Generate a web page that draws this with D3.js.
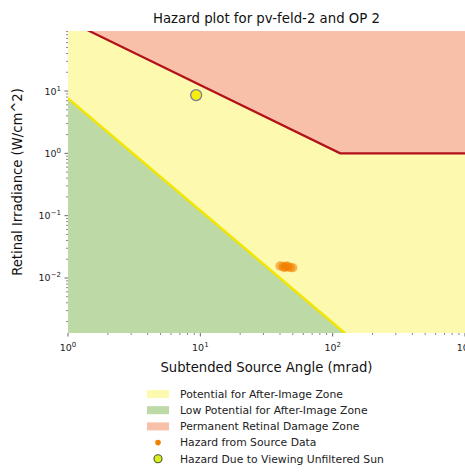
<!DOCTYPE html>
<html>
<head>
<meta charset="utf-8">
<script src="https://cdn.jsdelivr.net/npm/d3@7"></script>
<style>
  html, body { margin: 0; padding: 0; background: #fff; }
  svg { display: block; font-family: "DejaVu Sans", sans-serif; }
</style>
</head>
<body>
<svg id="chart" width="465" height="473"></svg>
<script>
// Axis extents (mrad, W/cm^2)
const angleDomain = [1, 1000];
const irradianceDomain = [0.00131, 91.9];

// Boundary between low and potential after-image zones
const lowBoundaryAngle = [1, 124];
const lowBoundaryIrr = [7.6, 0.0013];

// Boundary of the permanent retinal damage zone
const burnBoundaryAngle = [1, 114, 1000];
const burnBoundaryIrr = [135, 1, 1];

// Hazard from source data
const sourceAngle = [40, 42, 44, 46, 48, 50, 45, 43];
const sourceIrr = [0.0156, 0.0154, 0.0152, 0.0150, 0.0148, 0.0146, 0.0157, 0.0147];

// Hazard due to viewing the unfiltered sun
const sunAngle = [9.3];
const sunIrr = [8.6];

const xTicks = [1, 10, 100, 1000];
const xTickExp = ["0", "1", "2", "3"];
const yTicks = [0.01, 0.1, 1, 10];
const yTickExp = ["\u22122", "\u22121", "0", "1"];

const legendLabels = [
  "Potential for After-Image Zone",
  "Low Potential for After-Image Zone",
  "Permanent Retinal Damage Zone",
  "Hazard from Source Data",
  "Hazard Due to Viewing Unfiltered Sun"
];

const colors = {
  yellowZone: "#fdf9ae",
  greenZone: "#bcd9a6",
  redZone: "#f8c0a8",
  yellowLine: "#f2e600",
  redLine: "#b3101a",
  source: "#f28000",
  sun: "#f4ee10"
};

const m = { left: 68, right: 465, top: 31, bottom: 333 };
const svg = d3.select("#chart");

const x = d3.scaleLog().domain(angleDomain).range([m.left, m.right]);
const y = d3.scaleLog().domain(irradianceDomain).range([m.bottom, m.top]);

svg.append("defs").append("clipPath").attr("id", "plotClip")
  .append("rect")
  .attr("x", m.left).attr("y", m.top)
  .attr("width", m.right - m.left).attr("height", m.bottom - m.top);

const plot = svg.append("g").attr("clip-path", "url(#plotClip)");

// Potential after-image zone fills the whole plot area
plot.append("rect")
  .attr("x", m.left).attr("y", m.top)
  .attr("width", m.right - m.left).attr("height", m.bottom - m.top)
  .attr("fill", colors.yellowZone);

const lowPts = lowBoundaryAngle.map((a, i) => [a, lowBoundaryIrr[i]]);
const burnPts = burnBoundaryAngle.map((a, i) => [a, burnBoundaryIrr[i]]);
const line = d3.line().x(d => x(d[0])).y(d => y(d[1]));

// Low potential zone: below the lower boundary
const yMin = irradianceDomain[0] / 10;
const yMax = irradianceDomain[1] * 10;
plot.append("path")
  .attr("d", line([[angleDomain[0], yMin], ...lowPts, [lowPts[lowPts.length - 1][0], yMin]]) + "Z")
  .attr("fill", colors.greenZone);

// Permanent damage zone: above the burn boundary
plot.append("path")
  .attr("d", line([[angleDomain[0], yMax], ...burnPts, [angleDomain[1], yMax]]) + "Z")
  .attr("fill", colors.redZone);

plot.append("path").attr("d", line(lowPts))
  .attr("fill", "none").attr("stroke", colors.yellowLine).attr("stroke-width", 2.5);
plot.append("path").attr("d", line(burnPts))
  .attr("fill", "none").attr("stroke", colors.redLine).attr("stroke-width", 2.2);

// Source hazard points
plot.selectAll(".src").data(sourceAngle).join("circle")
  .attr("cx", (d) => x(d))
  .attr("cy", (d, i) => y(sourceIrr[i]))
  .attr("r", 4.6)
  .attr("fill", colors.source)
  .attr("fill-opacity", 0.55);

// Sun hazard point
plot.selectAll(".sun").data(sunAngle).join("circle")
  .attr("cx", d => x(d))
  .attr("cy", (d, i) => y(sunIrr[i]))
  .attr("r", 5.5)
  .attr("fill", colors.sun)
  .attr("stroke", "#7d7f98")
  .attr("stroke-width", 1.3);

// Axes
const tickColor = "#555";
const xAxis = svg.append("g");
const xMinor = [];
for (let d = 1; d < 1000; d *= 10) for (let k = 2; k <= 9; k++) xMinor.push(d * k);
xAxis.selectAll(".xmaj").data(xTicks).join("line")
  .attr("x1", d => x(d)).attr("x2", d => x(d))
  .attr("y1", m.bottom).attr("y2", m.bottom + 3.5)
  .attr("stroke", tickColor).attr("stroke-width", 0.9);
xAxis.selectAll(".xmin").data(xMinor).join("line")
  .attr("x1", d => x(d)).attr("x2", d => x(d))
  .attr("y1", m.bottom).attr("y2", m.bottom + 2)
  .attr("stroke", tickColor).attr("stroke-width", 0.7);
const xl = xAxis.selectAll(".xlab").data(xTicks).join("text")
  .attr("x", d => x(d)).attr("y", m.bottom + 18)
  .attr("text-anchor", "middle")
  .attr("font-size", 9.5).attr("fill", "#222");
xl.append("tspan").text("10");
xl.append("tspan").attr("dy", -4).attr("font-size", 7).text((d, i) => xTickExp[i]);

const yAxis = svg.append("g");
const yMinor = [];
for (let d = 0.001; d < 100; d *= 10) for (let k = 2; k <= 9; k++) {
  const v = d * k;
  if (v >= irradianceDomain[0] && v <= irradianceDomain[1]) yMinor.push(v);
}
yAxis.selectAll(".ymaj").data(yTicks).join("line")
  .attr("x1", m.left - 3.5).attr("x2", m.left)
  .attr("y1", d => y(d)).attr("y2", d => y(d))
  .attr("stroke", tickColor).attr("stroke-width", 0.9);
yAxis.selectAll(".ymin").data(yMinor).join("line")
  .attr("x1", m.left - 2).attr("x2", m.left)
  .attr("y1", d => y(d)).attr("y2", d => y(d))
  .attr("stroke", tickColor).attr("stroke-width", 0.7);
const yl = yAxis.selectAll(".ylab").data(yTicks).join("text")
  .attr("x", m.left - 7).attr("y", d => y(d) + 3.5)
  .attr("text-anchor", "end")
  .attr("font-size", 9.5).attr("fill", "#222");
yl.append("tspan").text("10");
yl.append("tspan").attr("dy", -4).attr("font-size", 7).text((d, i) => yTickExp[i]);

// Titles
svg.append("text").attr("x", (m.left + m.right) / 2).attr("y", 23)
  .attr("text-anchor", "middle").attr("font-size", 13.3).attr("fill", "#111")
  .text("Hazard plot for pv-feld-2 and OP 2");
svg.append("text").attr("x", (m.left + m.right) / 2).attr("y", 372)
  .attr("text-anchor", "middle").attr("font-size", 13.2).attr("fill", "#111")
  .text("Subtended Source Angle (mrad)");
svg.append("text")
  .attr("transform", `translate(22,${(m.top + m.bottom) / 2}) rotate(-90)`)
  .attr("text-anchor", "middle").attr("font-size", 13.2).attr("fill", "#111")
  .text("Retinal Irradiance (W/cm^2)");

// Legend
const legend = svg.append("g").attr("transform", "translate(147,394)");
const rowH = 16.2;
const patchFill = [colors.yellowZone, colors.greenZone, colors.redZone];
legend.selectAll(".patch").data(patchFill).join("rect")
  .attr("x", 0).attr("y", (d, i) => i * rowH - 4)
  .attr("width", 22).attr("height", 8)
  .attr("fill", d => d);
legend.append("circle").attr("cx", 11).attr("cy", 3 * rowH).attr("r", 2.8)
  .attr("fill", colors.source);
legend.append("circle").attr("cx", 11).attr("cy", 4 * rowH).attr("r", 4)
  .attr("fill", "#d8f020").attr("stroke", "#4a5a30").attr("stroke-width", 1.1);
legend.selectAll(".lab").data(legendLabels).join("text")
  .attr("x", 33).attr("y", (d, i) => i * rowH + 3.8)
  .attr("font-size", 10.8).attr("fill", "#222")
  .text(d => d);
</script>
</body>
</html>
